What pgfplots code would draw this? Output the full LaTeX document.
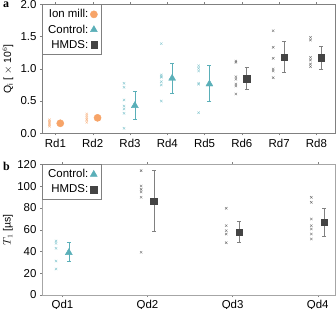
\documentclass[border=0pt]{standalone}
\usepackage{pgfplots}
\pgfplotsset{compat=1.18}
\usepackage{fontspec}
\setmainfont{Liberation Sans}
\newfontfamily\serifb{Liberation Serif}
\definecolor{ionc}{HTML}{F7A468}
\definecolor{ionx}{HTML}{F8B88A}
\definecolor{ctrl}{HTML}{5AAFB8}
\definecolor{ctrlx}{HTML}{8CCAD2}
\definecolor{hmds}{HTML}{444444}
\definecolor{hmdsx}{HTML}{707070}
\pgfplotsset{
  common/.style={
    scale only axis,
    width=292.7bp,
    /pgf/number format/assume math mode=true,
    tick label style={font=\fontsize{11.5}{13}\selectfont},
    label style={font=\fontsize{10.5}{12}\selectfont},
    tick align=outside,
    major tick length=2bp,
    tick style={gray},
    clip=false,
    legend style={font=\fontsize{11.5}{16}\selectfont, draw=gray, at={(0,1)}, anchor=north west,
      inner xsep=4bp, inner ysep=3bp, row sep=1.5bp},
    legend plot pos=right,
    legend cell align=right,
  },
  xs/.style={only marks, mark=x, mark size=1.7bp, forget plot},
  ebar/.style={error bars/.cd, y dir=both, y explicit, error mark=-,
    error mark options={rotate=90, mark size=2bp, line width=0.6pt}, error bar style={line width=0.6pt, #1}},
  ebar/.default={},
}
\begin{document}
\begin{tikzpicture}
\useasboundingbox (0,0) rectangle (336bp,-309bp);
\begin{axis}[common,
  at={(42bp,-4.3bp)}, anchor=north west,
  height=129bp,
  xmin=-0.36, xmax=7.49,
  ymin=0, ymax=2.0,
  ytick={0,0.5,1.0,1.5,2.0},
  yticklabel style={/pgf/number format/.cd, fixed, fixed zerofill, precision=1},
  xtick={0,...,7},
  xticklabels={Rd1,Rd2,Rd3,Rd4,Rd5,Rd6,Rd7,Rd8},
  axis line style={gray},
  ylabel={Q$_\mathrm{i}$ [ $\times$ 10$^6$]},
  ylabel style={at={(axis description cs:0,0.5)}, yshift=34bp, anchor=center},
]
\addplot[xs, ionx] coordinates {(-0.16,0.11)(-0.16,0.13)(-0.16,0.15)(-0.16,0.17)(-0.16,0.19)(-0.16,0.21)
  (0.84,0.17)(0.84,0.21)(0.84,0.24)(0.84,0.27)(0.84,0.30)};
\addplot[xs, ctrlx] coordinates {(1.84,0.775)(1.84,0.713)(1.84,0.517)(1.84,0.423)(1.84,0.377)(1.84,0.31)(1.84,0.078)
  (2.84,1.39)(2.84,0.905)(2.84,0.877)(2.84,0.87)(2.84,0.80)(2.84,0.75)(2.84,0.50)
  (3.84,1.048)(3.84,1.007)(3.84,0.966)(3.84,0.775)(3.84,0.76)(3.84,0.32)};
\addplot[xs, hmdsx] coordinates {(4.84,1.12)(4.84,1.10)(4.84,0.877)(4.84,0.837)(4.84,0.764)(4.84,0.733)(4.84,0.61)
  (5.84,1.59)(5.84,1.333)(5.84,1.163)(5.84,0.997)(5.84,0.966)(5.84,0.862)
  (6.84,1.488)(6.84,1.446)(6.84,1.178)(6.84,1.136)(6.84,1.074)(6.84,1.033)};
\addplot[only marks, mark=*, mark size=3.6bp, ionc, mark options={draw=ionc, fill=ionc}, ebar]
  coordinates {(0.13,0.155) +=(0,0.03) -=(0,0.03) (1.13,0.24) +=(0,0.04) -=(0,0.04)};
\addlegendentry{Ion mill:}
\addplot[only marks, mark=triangle*, mark size=4bp, ctrl, mark options={draw=ctrl, fill=ctrl}, ebar]
  coordinates {(2.13,0.43) +=(0,0.215) -=(0,0.21) (3.13,0.853) +=(0,0.237) -=(0,0.228) (4.13,0.764) +=(0,0.295) -=(0,0.274)};
\addlegendentry{Control:}
\addplot[only marks, mark=square*, mark size=3.2bp, hmds, mark options={draw=hmds, fill=hmds}, ebar={gray}]
  coordinates {(5.13,0.847) +=(0,0.17) -=(0,0.167) (6.13,1.178) +=(0,0.242) -=(0,0.232) (7.13,1.17) +=(0,0.173) -=(0,0.173)};
\addlegendentry{HMDS:}
\end{axis}
\node[anchor=north west, font=\serifb\bfseries\fontsize{12}{12}\selectfont, inner sep=0pt] at (3bp,-2bp) {a};
\begin{axis}[common,
  at={(42bp,-164.3bp)}, anchor=north west,
  height=130.7bp,
  xmin=-0.24, xmax=3.2,
  ymin=0, ymax=120,
  ytick={0,20,...,120},
  xtick={0,...,3},
  xticklabels={Qd1,Qd2,Qd3,Qd4},
  axis line style={gray!70},
  ylabel={$T_1$ [µs]},
  ylabel style={at={(axis description cs:0,0.5)}, yshift=34bp, anchor=center},
]
\addplot[xs, ctrlx] coordinates {(-0.075,49.6)(-0.075,47.4)(-0.075,42.9)(-0.075,31.2)(-0.075,23.9)};
\addplot[xs, hmdsx] coordinates {(0.925,114.2)(0.925,100.1)(0.925,97)(0.925,94.6)(0.925,89.7)(0.925,39.2)
  (1.925,79.6)(1.925,63.7)(1.925,59.1)(1.925,56)(1.925,48)
  (2.925,89.7)(2.925,85.1)(2.925,69.8)(2.925,63.7)(2.925,60.6)(2.925,56)(2.925,51.4)};
\addplot[only marks, mark=triangle*, mark size=4bp, ctrl, mark options={draw=ctrl, fill=ctrl}, ebar]
  coordinates {(0.075,38.9) +=(0,9.5) -=(0,8.3)};
\addlegendentry{Control:}
\addplot[only marks, mark=square*, mark size=3.2bp, hmds, mark options={draw=hmds, fill=hmds}, ebar={gray}]
  coordinates {(1.075,86) +=(0,28.2) -=(0,27.8) (2.075,57.9) +=(0,9.4) -=(0,9.5) (3.075,67) +=(0,12.6) -=(0,12.8)};
\addlegendentry{HMDS:}
\end{axis}
\node[anchor=north west, font=\serifb\bfseries\fontsize{12}{12}\selectfont, inner sep=0pt] at (3bp,-162bp) {b};
\end{tikzpicture}
\end{document}
